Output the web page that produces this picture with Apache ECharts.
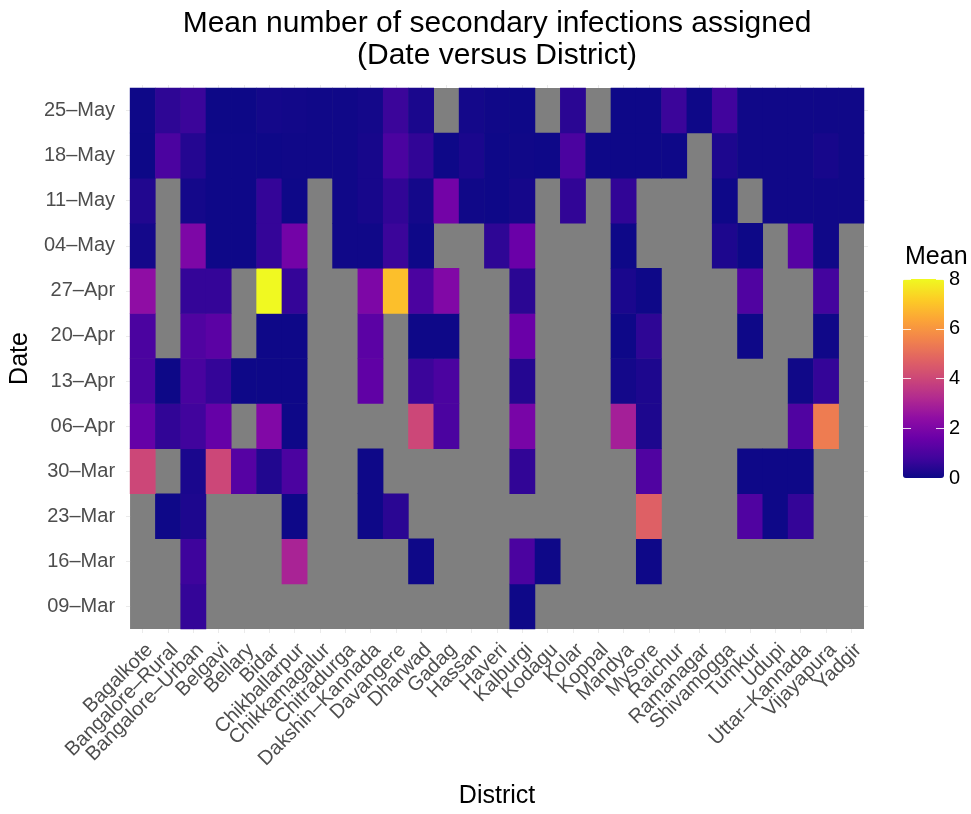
<!DOCTYPE html>
<html>
<head>
<meta charset="utf-8">
<script src="https://cdn.jsdelivr.net/npm/echarts@6/dist/echarts.min.js"></script>
<style>
  html, body { margin: 0; padding: 0; background: #ffffff; }
  #chart { width: 971px; height: 814px; }
</style>
</head>
<body>
<div id="chart"></div>
<script>
// Districts along the x axis
const districts = [
  'Bagalkote', 'Bangalore–Rural', 'Bangalore–Urban', 'Belgavi', 'Bellary', 'Bidar',
  'Chikballarpur', 'Chikkamagalur', 'Chitradurga', 'Dakshin–Kannada', 'Davangere',
  'Dharwad', 'Gadag', 'Hassan', 'Haveri', 'Kalburgi', 'Kodagu', 'Kolar', 'Koppal',
  'Mandya', 'Mysore', 'Raichur', 'Ramanagar', 'Shivamogga', 'Tumkur', 'Udupi',
  'Uttar–Kannada', 'Vijayapura', 'Yadgir'
];

// Week starting dates along the y axis (bottom to top)
const dates = ['09–Mar', '16–Mar', '23–Mar', '30–Mar', '06–Apr', '13–Apr',
               '20–Apr', '27–Apr', '04–May', '11–May', '18–May', '25–May'];

// Mean number of secondary infections per district, one list per week (null = no data)
const n = null;
const wk09Mar = [n, n, 0.6, n, n, n, n, n, n, n, n, n, n, n, n, 0.02, n, n, n, n, n, n, n, n, n, n, n, n, n];
const wk16Mar = [n, n, 0.75, n, n, n, 3.0, n, n, n, n, 0.02, n, n, n, 1.0, 0.02, n, n, n, 0.02, n, n, n, n, n, n, n, n];
const wk23Mar = [n, 0.02, 0.25, n, n, n, 0.02, n, n, 0.02, 0.45, n, n, n, n, n, n, n, n, n, 4.7, n, n, n, 1.1, 0.02, 0.6, n, n];
const wk30Mar = [4.0, n, 0.2, 4.0, 1.2, 0.3, 1.0, n, n, 0.02, n, n, n, n, n, 0.55, n, n, n, n, 1.1, n, n, n, 0.02, 0.02, 0.02, n, n];
const wk06Apr = [1.5, 0.55, 0.8, 1.5, n, 2.1, 0.02, n, n, n, n, 4.0, 1.0, n, n, 1.9, n, n, n, 2.9, 0.25, n, n, n, n, n, 1.1, 5.4, n];
const wk13Apr = [1.0, 0, 0.95, 0.6, 0.02, 0.02, 0.02, n, n, 1.4, n, 0.7, 1.0, n, n, 0.35, n, n, n, 0.1, 0.25, n, n, n, n, n, 0.05, 0.6, n];
const wk20Apr = [1.0, n, 1.1, 1.3, n, 0.02, 0.02, n, n, 1.3, n, 0.02, 0.02, n, n, 1.6, n, n, n, 0.02, 0.5, n, n, n, 0.02, n, n, 0.05, n];
const wk27Apr = [2.4, n, 0.6, 0.6, n, 8.0, 0.6, n, n, 2.0, 6.9, 1.0, 2.1, n, n, 0.45, n, n, n, 0.2, 0.02, n, n, n, 1.1, n, n, 0.85, n];
const wk04May = [0.1, n, 2.0, 0.02, 0.02, 0.6, 1.8, n, 0.05, 0.05, 0.7, 0.02, n, n, 0.5, 1.6, n, n, n, 0.02, n, n, n, 0.25, 0, n, 1.2, 0.05, n];
const wk11May = [0.3, n, 0.1, 0.02, 0.02, 0.6, 0.02, n, 0.05, 0.15, 0.55, 0.1, 1.8, 0.05, 0.02, 0.12, n, 0.55, n, 0.55, n, n, n, 0.02, n, 0.05, 0.05, 0.05, 0.05];
const wk18May = [0, 1.0, 0.35, 0.02, 0.02, 0.02, 0.05, 0.05, 0.05, 0.15, 1.0, 0.55, 0.02, 0.2, 0.02, 0.05, 0.02, 1.0, 0.02, 0.02, 0.02, 0.02, n, 0.25, 0.05, 0.05, 0.05, 0.15, 0.05];
const wk25May = [0.02, 0.5, 0.7, 0, 0, 0.1, 0.08, 0.05, 0.05, 0.1, 0.7, 0.2, n, 0.1, 0.05, 0.02, n, 0.45, n, 0.02, 0.02, 0.7, 0.02, 0.8, 0.05, 0.05, 0.05, 0.05, 0.05];

const weeks = [wk09Mar, wk16Mar, wk23Mar, wk30Mar, wk06Apr, wk13Apr,
               wk20Apr, wk27Apr, wk04May, wk11May, wk18May, wk25May];

// Colour bar tick values
const legendTicks = [0, 2, 4, 6, 8];

// Plasma palette
const plasma = ['#0D0887', '#41049D', '#6A00A8', '#8F0DA4', '#B12A90', '#CC4778',
                '#E16462', '#F2844B', '#FCA636', '#FCCE25', '#F0F921'];

// [districtIndex, weekIndex, value] triples for the heatmap
const cells = [];
weeks.forEach((row, j) => {
  row.forEach((v, i) => {
    if (v !== null) cells.push([i, j, v]);
  });
});

const FONT = '"Liberation Sans", Arial, Helvetica, sans-serif';
const gridTickColor = '#EBEBEB';

const chart = echarts.init(document.getElementById('chart'), null, { renderer: 'canvas' });

chart.setOption({
  animation: false,
  backgroundColor: '#ffffff',
  textStyle: { fontFamily: FONT },
  title: {
    text: 'Mean number of secondary infections assigned\n(Date versus District)',
    left: 497,
    top: 8,
    padding: 0,
    textAlign: 'center',
    textStyle: {
      fontFamily: FONT,
      fontSize: 30,
      fontWeight: 'normal',
      color: '#000000',
      lineHeight: 32
    }
  },
  grid: [
    {
      left: 129, top: 88, width: 735, height: 546,
      show: true, backgroundColor: '#7F7F7F', borderWidth: 0,
      containLabel: false
    },
    {
      left: 903, top: 279, width: 41, height: 199,
      show: false, containLabel: false
    }
  ],
  xAxis: [
    {
      type: 'category',
      gridIndex: 0,
      position: 'bottom',
      data: districts,
      axisLine: { show: false },
      axisTick: { show: true, length: 4, alignWithLabel: true, interval: 0,
                  lineStyle: { color: gridTickColor, width: 1 } },
      axisLabel: {
        interval: 0, rotate: 45, fontSize: 20, color: '#4D4D4D', fontFamily: FONT,
        margin: 25, padding: [0, -10, 0, 0]
      },
      splitLine: { show: false },
      name: 'District',
      nameLocation: 'middle',
      nameGap: 155,
      nameTextStyle: { fontSize: 25, color: '#000000', fontFamily: FONT }
    },
    {
      type: 'category',
      gridIndex: 0,
      position: 'top',
      data: districts,
      axisLine: { show: false },
      axisTick: { show: true, length: 3, alignWithLabel: true, interval: 0,
                  lineStyle: { color: gridTickColor, width: 1 } },
      axisLabel: { show: false },
      splitLine: { show: false }
    },
    { type: 'value', gridIndex: 1, show: false, min: 0, max: 1 }
  ],
  yAxis: [
    {
      type: 'category',
      gridIndex: 0,
      position: 'left',
      data: dates,
      axisLine: { show: false },
      axisTick: { show: true, length: 4, alignWithLabel: true, interval: 0,
                  lineStyle: { color: gridTickColor, width: 1 } },
      axisLabel: { interval: 0, fontSize: 20, color: '#4D4D4D', fontFamily: FONT, margin: 15 },
      splitLine: { show: false },
      name: 'Date',
      nameLocation: 'middle',
      nameGap: 96,
      nameRotate: 90,
      nameTextStyle: { fontSize: 25, color: '#000000', fontFamily: FONT }
    },
    {
      type: 'category',
      gridIndex: 0,
      position: 'right',
      data: dates,
      axisLine: { show: false },
      axisTick: { show: true, length: 4, alignWithLabel: true, interval: 0,
                  lineStyle: { color: gridTickColor, width: 1 } },
      axisLabel: { show: false },
      splitLine: { show: false }
    },
    {
      type: 'value',
      gridIndex: 1,
      position: 'left',
      min: legendTicks[0],
      max: legendTicks[legendTicks.length - 1],
      interval: 2,
      z: 10,
      axisLine: { show: false },
      axisTick: { show: true, inside: true, length: 8,
                  lineStyle: { color: 'rgba(255,255,255,0.85)', width: 1 } },
      axisLabel: { show: false },
      splitLine: { show: false }
    },
    {
      type: 'value',
      gridIndex: 1,
      position: 'right',
      min: legendTicks[0],
      max: legendTicks[legendTicks.length - 1],
      interval: 2,
      z: 10,
      axisLine: { show: false },
      axisTick: { show: true, inside: true, length: 8,
                  lineStyle: { color: 'rgba(255,255,255,0.85)', width: 1 } },
      axisLabel: { show: true, fontSize: 20, color: '#000000', fontFamily: FONT, margin: 5 },
      splitLine: { show: false }
    }
  ],
  visualMap: {
    type: 'continuous',
    seriesIndex: 0,
    min: legendTicks[0],
    max: legendTicks[legendTicks.length - 1],
    calculable: false,
    orient: 'vertical',
    left: 903,
    top: 279,
    itemWidth: 41,
    itemHeight: 199,
    padding: 0,
    inRange: { color: plasma }
  },
  graphic: [
    {
      type: 'text',
      left: 905,
      top: 245,
      style: { text: 'Mean', fontSize: 25, fill: '#000000', fontFamily: FONT }
    }
  ],
  series: [
    {
      type: 'heatmap',
      xAxisIndex: 0,
      yAxisIndex: 0,
      data: cells,
      itemStyle: { borderWidth: 0 },
      emphasis: { disabled: true }
    }
  ]
});
</script>
</body>
</html>
